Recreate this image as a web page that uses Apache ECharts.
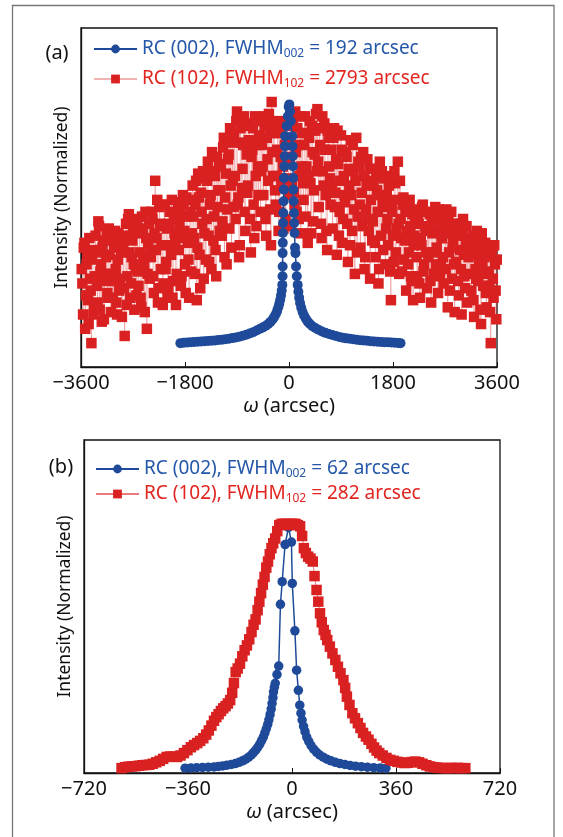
<!DOCTYPE html>
<html><head><meta charset="utf-8">
<script src="https://cdn.jsdelivr.net/npm/echarts@6/dist/echarts.min.js"></script>
<style>html,body{margin:0;padding:0;background:#fff}#c{width:563px;height:837px}</style>
</head><body><div id="c"></div>
<script>
// ---------- Panel (a) ----------
const xTicksA = [-3600, -1800, 0, 1800, 3600];
const nameA002 = 'RC (002), FWHM002 = 192 arcsec';
const nameA102 = 'RC (102), FWHM102 = 2793 arcsec';
// RC (102) omega positions (arcsec) and normalized intensity, first pass
const redAX = [
-3588,-3564,-3540,-3516,-3492,-3468,-3444,-3420,-3396,-3372,
-3348,-3324,-3300,-3276,-3252,-3228,-3204,-3180,-3156,-3132,
-3108,-3084,-3060,-3036,-3012,-2988,-2964,-2940,-2916,-2892,
-2868,-2844,-2820,-2796,-2772,-2748,-2724,-2700,-2676,-2652,
-2628,-2604,-2580,-2556,-2532,-2508,-2484,-2460,-2436,-2412,
-2388,-2364,-2340,-2316,-2292,-2268,-2244,-2220,-2196,-2172,
-2148,-2124,-2100,-2076,-2052,-2028,-2004,-1980,-1956,-1932,
-1908,-1884,-1860,-1836,-1812,-1788,-1764,-1740,-1716,-1692,
-1668,-1644,-1620,-1596,-1572,-1548,-1524,-1500,-1476,-1452,
-1428,-1404,-1380,-1356,-1332,-1308,-1284,-1260,-1236,-1212,
-1188,-1164,-1140,-1116,-1092,-1068,-1044,-1020,-996,-972,
-948,-924,-900,-876,-852,-828,-804,-780,-756,-732,
-708,-684,-660,-636,-612,-588,-564,-540,-516,-492,
-468,-444,-420,-396,-372,-348,-324,-300,-276,-252,
-228,-204,-180,-156,-132,-108,-84,-60,-36,-12,
12,36,60,84,108,132,156,180,204,228,
252,276,300,324,348,372,396,420,444,468,
492,516,540,564,588,612,636,660,684,708,
732,756,780,804,828,852,876,900,924,948,
972,996,1020,1044,1068,1092,1116,1140,1164,1188,
1212,1236,1260,1284,1308,1332,1356,1380,1404,1428,
1452,1476,1500,1524,1548,1572,1596,1620,1644,1668,
1692,1716,1740,1764,1788,1812,1836,1860,1884,1908,
1932,1956,1980,2004,2028,2052,2076,2100,2124,2148,
2172,2196,2220,2244,2268,2292,2316,2340,2364,2388,
2412,2436,2460,2484,2508,2532,2556,2580,2604,2628,
2652,2676,2700,2724,2748,2772,2796,2820,2844,2868,
2892,2916,2940,2964,2988,3012,3036,3060,3084,3108,
3132,3156,3180,3204,3228,3252,3276,3300,3324,3348,
3372,3396,3420,3444,3468,3492,3516,3540,3564,3588];
const redAY = [
0.31,0.12,0.42,0.20,0.36,0.08,0.27,0.00,0.39,0.16,
0.45,0.24,0.51,0.14,0.33,0.40,0.10,0.29,0.46,0.19,
0.37,0.13,0.43,0.26,0.47,0.17,0.35,0.22,0.44,0.11,
0.41,0.03,0.50,0.28,0.54,0.19,0.36,0.47,0.14,0.31,
0.52,0.24,0.38,0.15,0.48,0.33,0.55,0.06,0.42,0.27,
0.36,0.52,0.21,0.68,0.44,0.17,0.57,0.31,0.49,0.25,
0.58,0.34,0.19,0.50,0.41,0.60,0.26,0.46,0.16,0.54,
0.39,0.56,0.28,0.62,0.47,0.21,0.53,0.35,0.60,0.30,
0.66,0.44,0.58,0.18,0.71,0.37,0.63,0.50,0.27,0.69,
0.52,0.76,0.34,0.62,0.80,0.43,0.70,0.28,0.57,0.74,
0.64,0.45,0.82,0.36,0.71,0.56,0.79,0.90,0.40,0.68,
0.88,0.52,0.97,0.61,0.41,0.84,0.73,0.95,0.47,0.79,
0.66,0.92,0.38,0.81,0.58,0.95,0.49,0.74,0.87,0.55,
0.83,0.62,0.91,0.45,0.77,0.96,0.56,1.01,0.70,0.88,
0.58,0.81,0.47,0.90,0.66,0.74,0.93,0.52,0.85,0.62,
0.78,0.49,0.92,0.63,0.97,0.55,0.83,0.70,0.46,0.88,
0.60,0.95,0.74,0.42,0.86,0.67,0.91,0.51,0.79,0.96,
0.98,0.57,0.83,0.44,0.72,0.92,0.62,0.39,0.86,0.69,
0.81,0.48,0.90,0.63,0.37,0.75,0.55,0.87,0.42,0.70,
0.59,0.78,0.34,0.66,0.85,0.47,0.72,0.29,0.86,0.53,
0.74,0.40,0.63,0.80,0.31,0.56,0.77,0.47,0.27,0.68,
0.51,0.73,0.36,0.64,0.25,0.76,0.45,0.58,0.69,0.33,
0.62,0.41,0.70,0.18,0.55,0.34,0.67,0.48,0.76,0.29,
0.52,0.30,0.61,0.43,0.22,0.57,0.38,0.49,0.26,0.18,
0.45,0.56,0.28,0.50,0.19,0.41,0.58,0.33,0.47,0.23,
0.36,0.54,0.17,0.46,0.29,0.57,0.40,0.21,0.51,0.32,
0.44,0.25,0.50,0.56,0.15,0.38,0.48,0.27,0.42,0.13,
0.34,0.46,0.20,0.39,0.12,0.52,0.28,0.43,0.17,0.36,
0.41,0.22,0.45,0.11,0.31,0.47,0.26,0.38,0.08,0.33,
0.29,0.42,0.15,0.37,0.24,0.00,0.40,0.19,0.33,0.10];
// RC (102), interleaved second pass of the scan
const redAX2 = [
-3576,-3552,-3528,-3504,-3480,-3456,-3432,-3408,-3384,-3360,
-3336,-3312,-3288,-3264,-3240,-3216,-3192,-3168,-3144,-3120,
-3096,-3072,-3048,-3024,-3000,-2976,-2952,-2928,-2904,-2880,
-2856,-2832,-2808,-2784,-2760,-2736,-2712,-2688,-2664,-2640,
-2616,-2592,-2568,-2544,-2520,-2496,-2472,-2448,-2424,-2400,
-2376,-2352,-2328,-2304,-2280,-2256,-2232,-2208,-2184,-2160,
-2136,-2112,-2088,-2064,-2040,-2016,-1992,-1968,-1944,-1920,
-1896,-1872,-1848,-1824,-1800,-1776,-1752,-1728,-1704,-1680,
-1656,-1632,-1608,-1584,-1560,-1536,-1512,-1488,-1464,-1440,
-1416,-1392,-1368,-1344,-1320,-1296,-1272,-1248,-1224,-1200,
-1176,-1152,-1128,-1104,-1080,-1056,-1032,-1008,-984,-960,
-936,-912,-888,-864,-840,-816,-792,-768,-744,-720,
-696,-672,-648,-624,-600,-576,-552,-528,-504,-480,
-456,-432,-408,-384,-360,-336,-312,-288,-264,-240,
-216,-192,-168,-144,-120,-96,-72,-48,-24,0,
24,48,72,96,120,144,168,192,216,240,
264,288,312,336,360,384,408,432,456,480,
504,528,552,576,600,624,648,672,696,720,
744,768,792,816,840,864,888,912,936,960,
984,1008,1032,1056,1080,1104,1128,1152,1176,1200,
1224,1248,1272,1296,1320,1344,1368,1392,1416,1440,
1464,1488,1512,1536,1560,1584,1608,1632,1656,1680,
1704,1728,1752,1776,1800,1824,1848,1872,1896,1920,
1944,1968,1992,2016,2040,2064,2088,2112,2136,2160,
2184,2208,2232,2256,2280,2304,2328,2352,2376,2400,
2424,2448,2472,2496,2520,2544,2568,2592,2616,2640,
2664,2688,2712,2736,2760,2784,2808,2832,2856,2880,
2904,2928,2952,2976,3000,3024,3048,3072,3096,3120,
3144,3168,3192,3216,3240,3264,3288,3312,3336,3360,
3384,3408,3432,3456,3480,3504,3528,3552,3576,3596];
const redAY2 = [
0.25,0.40,0.06,0.33,0.18,0.44,0.22,0.35,0.12,0.28,
0.38,0.17,0.49,0.30,0.09,0.43,0.26,0.36,0.21,0.48,
0.29,0.45,0.19,0.40,0.31,0.12,0.46,0.27,0.38,0.23,
0.23,0.45,0.16,0.52,0.38,0.25,0.43,0.33,0.51,0.20,
0.30,0.46,0.19,0.53,0.36,0.13,0.44,0.29,0.50,0.39,
0.55,0.28,0.46,0.39,0.60,0.23,0.50,0.41,0.16,0.58,
0.31,0.48,0.23,0.55,0.37,0.19,0.52,0.43,0.29,0.59,
0.50,0.24,0.44,0.58,0.33,0.61,0.42,0.19,0.55,0.46,
0.53,0.29,0.68,0.40,0.61,0.23,0.55,0.72,0.46,0.35,
0.68,0.45,0.58,0.31,0.72,0.53,0.39,0.78,0.64,0.47,
0.75,0.51,0.86,0.61,0.33,0.77,0.48,0.66,0.84,0.57,
0.70,0.93,0.58,0.36,0.90,0.65,0.83,0.55,0.91,0.63,
0.85,0.52,0.78,0.90,0.44,0.70,0.83,0.62,0.93,0.72,
0.74,0.95,0.52,0.86,0.68,0.89,0.41,0.80,0.93,0.64,
0.70,0.88,0.55,0.78,0.92,0.48,0.83,0.69,0.91,0.75,
0.85,0.66,0.94,0.58,0.80,0.90,0.52,0.95,0.74,0.67,
0.83,0.53,0.88,0.70,0.93,0.46,0.80,0.64,0.89,0.72,
0.76,0.90,0.50,0.95,0.66,0.81,0.47,0.89,0.74,0.58,
0.66,0.86,0.57,0.77,0.89,0.45,0.68,0.81,0.52,0.62,
0.80,0.50,0.73,0.41,0.62,0.83,0.56,0.68,0.38,0.76,
0.58,0.78,0.49,0.70,0.36,0.66,0.52,0.73,0.60,0.43,
0.66,0.42,0.70,0.55,0.31,0.62,0.72,0.39,0.57,0.48,
0.52,0.66,0.30,0.59,0.45,0.72,0.38,0.60,0.50,0.68,
0.44,0.58,0.35,0.55,0.47,0.33,0.60,0.28,0.54,0.41,
0.52,0.36,0.54,0.25,0.44,0.57,0.30,0.49,0.38,0.55,
0.48,0.26,0.52,0.38,0.55,0.33,0.47,0.56,0.28,0.44,
0.36,0.53,0.31,0.46,0.52,0.22,0.55,0.40,0.33,0.50,
0.45,0.26,0.50,0.31,0.47,0.37,0.23,0.49,0.40,0.29,
0.37,0.44,0.18,0.40,0.27,0.43,0.35,0.14,0.46,0.24,
0.36,0.21,0.40,0.30,0.13,0.38,0.27,0.41,0.22,0.35];
// RC (002) [omega, intensity]
const blueA = [
[-1880,0.000],[-1820,0.002],[-1760,0.003],[-1700,0.004],[-1640,0.005],[-1580,0.006],[-1520,0.007],[-1460,0.008],
[-1400,0.009],[-1340,0.010],[-1280,0.011],[-1220,0.013],[-1160,0.014],[-1100,0.016],[-1040,0.018],[-980,0.021],
[-920,0.024],[-860,0.027],[-800,0.031],[-740,0.035],[-680,0.040],[-620,0.046],[-560,0.053],[-500,0.060],
[-450,0.066],[-400,0.073],[-360,0.080],[-320,0.089],[-285,0.099],[-255,0.110],[-228,0.122],[-205,0.135],
[-185,0.150],[-168,0.165],[-152,0.182],[-138,0.200],[-126,0.220],[-116,0.244],
[-112,0.280],[-110,0.321],[-110,0.377],[-108,0.420],[-106,0.461],[-102,0.503],[-98,0.545],[-94,0.594],
[-90,0.643],[-86,0.692],[-80,0.741],[-74,0.783],[-70,0.825],[-66,0.867],
[-40,0.910],[-20,0.950],[-6,0.990],[6,1.000],[18,0.970],[30,0.930],
[56,0.867],[60,0.825],[64,0.783],[68,0.741],[72,0.692],[76,0.643],[80,0.594],[86,0.545],
[90,0.503],[96,0.461],[104,0.400],[112,0.377],[122,0.321],[135,0.280],[150,0.244],
[162,0.215],[176,0.190],[192,0.168],[212,0.148],[236,0.130],[262,0.115],[292,0.102],[325,0.090],
[362,0.080],[405,0.071],[455,0.063],[510,0.056],[570,0.049],[630,0.043],[690,0.038],[750,0.034],
[810,0.030],[870,0.026],[930,0.023],[990,0.020],[1050,0.018],[1110,0.016],[1170,0.014],[1230,0.012],
[1290,0.011],[1350,0.010],[1410,0.008],[1470,0.007],[1530,0.006],[1590,0.005],[1650,0.004],[1710,0.004],
[1770,0.003],[1830,0.002],[1890,0.001],[1930,0.000]];

// ---------- Panel (b) ----------
const xTicksB = [-720, -360, 0, 360, 720];
const nameB002 = 'RC (002), FWHM002 = 62 arcsec';
const nameB102 = 'RC (102), FWHM102 = 282 arcsec';
const blueB = [
[-370,0.000],[-350,0.001],[-330,0.002],[-310,0.003],[-290,0.004],[-270,0.005],[-255,0.007],[-240,0.009],
[-225,0.012],[-210,0.015],[-196,0.019],[-183,0.024],[-171,0.030],[-160,0.037],[-150,0.045],[-141,0.054],
[-133,0.064],[-125,0.075],[-118,0.087],[-111,0.100],[-105,0.114],[-99,0.129],[-94,0.145],[-89,0.162],
[-84,0.180],[-80,0.199],[-76,0.220],[-72,0.243],[-69,0.266],[-66,0.290],[-64,0.314],[-61,0.333],
[-58,0.349],[-52,0.385],[-46,0.420],[-40,0.674],[-34,0.767],[-24,0.920],[-12,0.990],[-2,0.930],
[1,0.760],[10,0.565],[16,0.403],[22,0.320],[27,0.259],[31,0.226],[35,0.198],[40,0.172],
[45,0.150],[51,0.128],[58,0.110],[66,0.093],[75,0.078],[85,0.065],[96,0.054],[108,0.045],
[121,0.037],[135,0.030],[150,0.024],[166,0.019],[183,0.015],[201,0.011],[220,0.008],[240,0.006],
[261,0.004],[283,0.002],[305,0.001],[325,0.000]];
const redB = [
[-590,0.000],[-578,0.004],[-566,0.006],[-554,0.007],[-542,0.008],[-530,0.010],[-518,0.012],[-506,0.013],
[-494,0.014],[-482,0.018],[-470,0.024],[-458,0.030],[-446,0.038],[-434,0.046],[-422,0.048],[-410,0.047],
[-398,0.046],[-386,0.052],[-374,0.062],[-362,0.074],[-350,0.086],[-339,0.095],[-328,0.103],[-318,0.112],
[-307,0.123],[-297,0.138],[-288,0.155],[-279,0.175],[-270,0.195],[-262,0.210],[-254,0.222],[-246,0.235],
[-238,0.246],[-230,0.255],[-222,0.266],[-214,0.280],[-207,0.310],[-201,0.350],[-195,0.395],[-188,0.410],
[-180,0.430],[-172,0.460],[-164,0.485],[-156,0.505],[-148,0.530],[-140,0.560],[-133,0.590],[-126,0.612],
[-119,0.650],[-113,0.685],[-107,0.720],[-101,0.755],[-95,0.787],[-89,0.825],[-83,0.850],[-77,0.880],
[-71,0.905],[-65,0.925],[-58,0.945],[-51,0.975],[-44,1.000],[-36,1.005],[-28,1.005],[-20,1.005],
[-12,1.000],[-4,1.005],[4,1.005],[12,1.005],[20,1.000],[28,0.995],[35,0.955],[41,0.905],
[48,0.885],[56,0.870],[64,0.862],[72,0.850],[78,0.790],[85,0.733],[91,0.685],[97,0.637],
[103,0.600],[110,0.568],[116,0.548],[122,0.527],[131,0.500],[140,0.472],[150,0.445],[159,0.417],
[168,0.390],[178,0.362],[184,0.330],[190,0.294],[199,0.260],[209,0.226],[218,0.205],[228,0.185],
[237,0.165],[246,0.145],[256,0.130],[265,0.117],[275,0.100],[284,0.085],[293,0.072],[302,0.062],
[314,0.052],[327,0.042],[340,0.034],[352,0.030],[365,0.026],[378,0.023],[390,0.021],[402,0.022],
[415,0.025],[427,0.027],[440,0.024],[452,0.018],[465,0.012],[477,0.007],[490,0.004],[502,0.002],
[514,0.001],[526,0.000],[538,0.000],[550,0.001],[562,0.000],[574,0.001],[586,0.000],[600,0.000]];

// ---------- build ----------
const FONT = 'Noto Sans';
const BLUE = '#1f4a9a', RED = '#da2121';
const BLUE_TXT = '#2457a8', RED_TXT = '#e2241f';
const redA = redAX.map((x, i) => [x, redAY[i]])
  .concat(redAX2.map((x, i) => [x, redAY2[i]]))
  .sort((p, q) => p[0] - q[0]);
const minus = v => String(v).replace('-', '\u2212');

function legendFor(name, color, left, top) {
  return {
    left: left, top: top, padding: 0, itemWidth: 43, itemHeight: 11, itemGap: 0,
    selectedMode: false, data: [name],
    lineStyle: { width: 2 },
    formatter: function (n) {
      const i = n.indexOf('FWHM') + 4;
      const j = n.indexOf(' ', i);
      return '{m|' + n.slice(0, i) + '}{s|' + n.slice(i, j) + '}{m|' + n.slice(j) + '}';
    },
    textStyle: {
      rich: {
        m: { fontSize: 19, fontFamily: FONT, color: color },
        s: { fontSize: 12, fontFamily: FONT, color: color, padding: [10, 0, 0, 0] }
      }
    }
  };
}
function xAxisFor(gi, ticks) {
  return {
    gridIndex: gi, type: 'value', min: ticks[0], max: ticks[ticks.length - 1],
    interval: ticks[1] - ticks[0],
    axisLine: { onZero: false, lineStyle: { color: '#111', width: 1.3 } },
    axisTick: { inside: true, length: 5, lineStyle: { color: '#111', width: 1 } },
    axisLabel: { fontSize: 20, fontFamily: FONT, color: '#111', margin: 6, formatter: minus },
    splitLine: { show: false },
    name: '{i|ω} (arcsec)', nameLocation: 'middle', nameGap: 29,
    nameTextStyle: { fontSize: 20, fontFamily: FONT, color: '#111',
      rich: { i: { fontStyle: 'italic', fontSize: 20, fontFamily: FONT, color: '#111' } } }
  };
}
function yAxisFor(gi, min, max) {
  return {
    gridIndex: gi, type: 'value', min: min, max: max,
    axisLine: { show: true, onZero: false, lineStyle: { color: '#111', width: 1.3 } },
    axisTick: { show: false }, axisLabel: { show: false }, splitLine: { show: false },
    name: 'Intensity (Normalized)', nameLocation: 'middle', nameGap: 10,
    nameTextStyle: { fontSize: 17.5, fontFamily: FONT, color: '#111' }
  };
}
function lineSeries(name, data, gi, symbol, size, color, lw, lineOpacity, z) {
  return {
    type: 'line', name: name, data: data, xAxisIndex: gi, yAxisIndex: gi,
    symbol: symbol, symbolSize: size, showSymbol: true, z: z,
    itemStyle: { color: color },
    lineStyle: { color: color, width: lw, opacity: lineOpacity },
    silent: true, animation: false, emphasis: { disabled: true }
  };
}

const chart = echarts.init(document.getElementById('c'), null, { renderer: 'canvas' });
chart.setOption({
  backgroundColor: '#fff',
  animation: false,
  grid: [
    { left: 81, top: 28, width: 416, height: 339, show: true, borderColor: '#111', borderWidth: 1.3 },
    { left: 84, top: 440, width: 416, height: 333, show: true, borderColor: '#111', borderWidth: 1.3 }
  ],
  xAxis: [xAxisFor(0, xTicksA), xAxisFor(1, xTicksB)],
  yAxis: [yAxisFor(0, -0.1, 1.32), yAxisFor(1, -0.02, 1.35)],
  legend: [
    legendFor(nameA002, BLUE_TXT, 93, 39.5),
    legendFor(nameA102, RED_TXT, 93, 69.5),
    legendFor(nameB002, BLUE_TXT, 95, 459.5),
    legendFor(nameB102, RED_TXT, 95, 484.5)
  ],
  series: [
    lineSeries(nameA102, redA, 0, 'rect', 10.5, RED, 0.8, 0.35, 2),
    lineSeries(nameA002, blueA, 0, 'circle', 10, BLUE, 1.5, 1, 3),
    lineSeries(nameB002, blueB, 1, 'circle', 9.5, BLUE, 1.5, 1, 2),
    lineSeries(nameB102, redB, 1, 'rect', 10.5, RED, 1, 0.6, 3)
  ],
  graphic: [
    { type: 'rect', shape: { x: 12.5, y: 5.5, width: 541.5, height: 900 },
      style: { fill: 'none', stroke: '#777', lineWidth: 1.3 }, silent: true },
    { type: 'text', x: 57, y: 53, style: { text: '(a)', fontSize: 20, fontFamily: FONT, fill: '#111', align: 'center', verticalAlign: 'middle' } },
    { type: 'text', x: 61, y: 467, style: { text: '(b)', fontSize: 20, fontFamily: FONT, fill: '#111', align: 'center', verticalAlign: 'middle' } }
  ]
});
</script></body></html>
